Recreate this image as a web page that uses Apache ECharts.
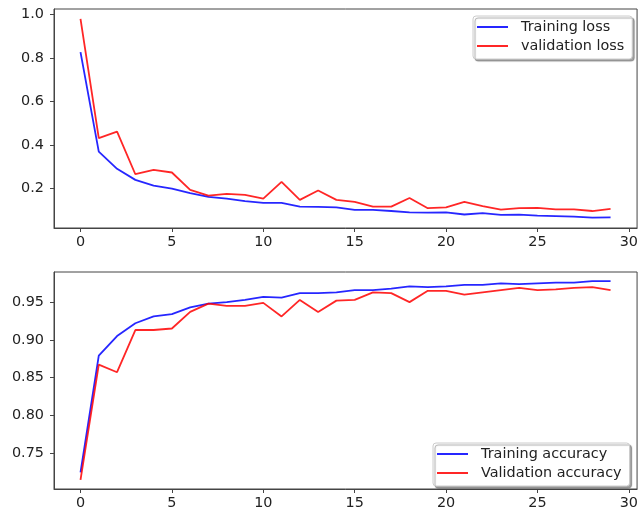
<!DOCTYPE html>
<html>
<head>
<meta charset="utf-8">
<script src="https://cdn.jsdelivr.net/npm/echarts@6.0.0/dist/echarts.min.js"></script>
<style>
  html, body { margin:0; padding:0; background:#fff; }
  #chart { width:641px; height:512px; }
</style>
</head>
<body>
<div id="chart"></div>
<script>
// --- data (30 epochs)
const epochs = Array.from({ length: 30 }, (_, i) => i);
const trainLoss = [0.827, 0.370, 0.291, 0.240, 0.214, 0.200, 0.179, 0.162, 0.154, 0.142,
  0.134, 0.134, 0.117, 0.116, 0.114, 0.102, 0.102, 0.097, 0.091, 0.090,
  0.091, 0.081, 0.087, 0.079, 0.080, 0.076, 0.074, 0.071, 0.067, 0.068];
const valLoss = [0.980, 0.432, 0.462, 0.266, 0.286, 0.274, 0.194, 0.168, 0.176, 0.171,
  0.154, 0.231, 0.148, 0.191, 0.148, 0.139, 0.117, 0.117, 0.157, 0.110,
  0.114, 0.139, 0.120, 0.103, 0.110, 0.111, 0.105, 0.105, 0.097, 0.107];
const trainAcc = [0.724, 0.879, 0.905, 0.922, 0.931, 0.934, 0.943, 0.948, 0.950, 0.953,
  0.957, 0.956, 0.962, 0.962, 0.963, 0.966, 0.966, 0.968, 0.971, 0.970,
  0.971, 0.973, 0.973, 0.975, 0.974, 0.975, 0.976, 0.976, 0.978, 0.978];
const valAcc = [0.714, 0.867, 0.857, 0.913, 0.913, 0.915, 0.937, 0.948, 0.945, 0.945,
  0.949, 0.931, 0.953, 0.937, 0.952, 0.953, 0.963, 0.962, 0.950, 0.965,
  0.965, 0.960, 0.963, 0.966, 0.969, 0.966, 0.967, 0.969, 0.970, 0.966];

const xTicks = [0, 5, 10, 15, 20, 25, 30];
const lossTicks = [0.2, 0.4, 0.6, 0.8, 1.0];
const accTicks = [0.75, 0.80, 0.85, 0.90, 0.95];

const FONT = "DejaVu Sans";
const FS = 14.4;
const BLUE = "rgba(0,0,255,0.85)";
const RED = "rgba(255,0,0,0.85)";
const SPINE = "#444";

const pairs = (ys) => epochs.map((x, i) => [x, ys[i]]);

// --- shared axis helpers
function xAxis(gridIndex) {
  return {
    type: "value", gridIndex, min: -1.45, max: 30.45,
    axisLine: { show: true, onZero: false, lineStyle: { color: SPINE, width: 1 } },
    axisTick: { show: true, length: 4, customValues: xTicks, lineStyle: { color: SPINE } },
    axisLabel: { customValues: xTicks, margin: 7, color: "#222", fontFamily: FONT, fontSize: FS },
    splitLine: { show: false }
  };
}
function yAxis(gridIndex, min, max, ticks, digits) {
  return {
    type: "value", gridIndex, min, max,
    axisLine: { show: true, onZero: false, lineStyle: { color: SPINE, width: 1 } },
    axisTick: { show: true, length: 4, customValues: ticks, lineStyle: { color: SPINE } },
    axisLabel: {
      customValues: ticks, margin: 10, color: "#222", fontFamily: FONT, fontSize: FS,
      formatter: (v) => v.toFixed(digits)
    },
    splitLine: { show: false }
  };
}
function legend(left, top, names) {
  return {
    orient: "vertical", left, top, data: names,
    icon: "rect", itemWidth: 31, itemHeight: 2, itemGap: 3,
    padding: [3, 8, 5, 4],
    backgroundColor: "#fff", borderColor: "#ccc", borderWidth: 1, borderRadius: 3,
    shadowColor: "rgba(0,0,0,0.35)", shadowBlur: 1, shadowOffsetX: 2, shadowOffsetY: 2,
    textStyle: { color: "#222", fontFamily: FONT, fontSize: FS, lineHeight: 16, padding: [0, 0, 0, 8] },
    selectedMode: false
  };
}
function line(name, ys, idx, color) {
  return {
    name, type: "line", xAxisIndex: idx, yAxisIndex: idx,
    data: pairs(ys), symbol: "none", smooth: false,
    lineStyle: { color, width: 1.8 }, itemStyle: { color }
  };
}

const chart = echarts.init(document.getElementById("chart"), null, { renderer: "canvas" });
chart.setOption({
  animation: false,
  backgroundColor: "#fff",
  grid: [
    { left: 54, top: 9, width: 588, height: 219, show: true, borderColor: SPINE, borderWidth: 1, backgroundColor: "transparent" },
    { left: 54, top: 272, width: 588, height: 217, show: true, borderColor: SPINE, borderWidth: 1, backgroundColor: "transparent" }
  ],
  xAxis: [xAxis(0), xAxis(1)],
  yAxis: [
    yAxis(0, 0.019, 1.025, lossTicks, 1),
    yAxis(1, 0.702, 0.990, accTicks, 2)
  ],
  legend: [
    legend(473, 16, ["Training loss", "validation loss"]),
    legend(433, 443, ["Training accuracy", "Validation accuracy"])
  ],
  series: [
    line("Training loss", trainLoss, 0, BLUE),
    line("validation loss", valLoss, 0, RED),
    line("Training accuracy", trainAcc, 1, BLUE),
    line("Validation accuracy", valAcc, 1, RED)
  ]
});
</script>
</body>
</html>
